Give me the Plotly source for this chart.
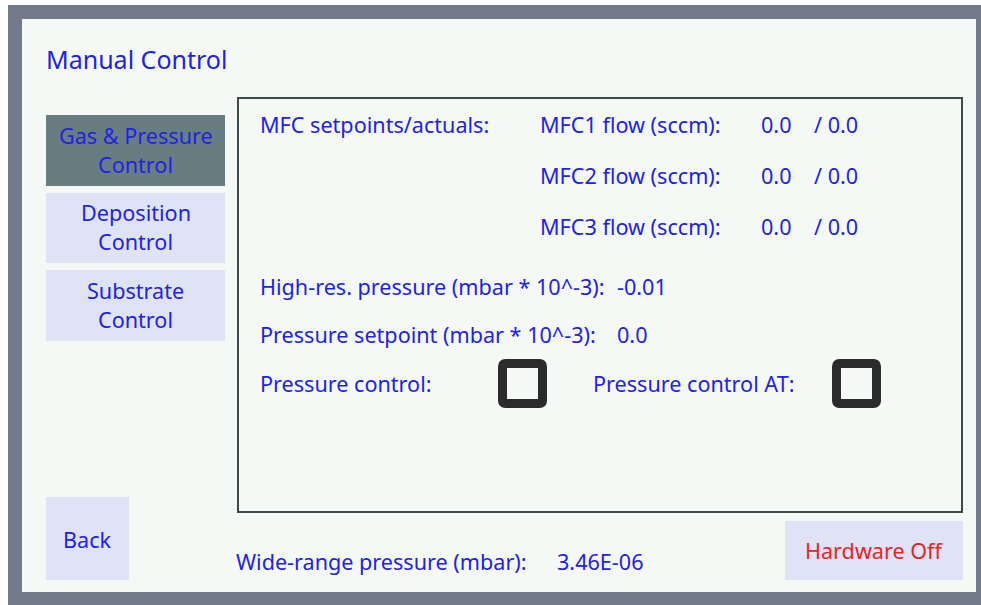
import plotly.graph_objects as go

# ---- data ----
title_text = "Manual Control"
nav_buttons = [["Gas & Pressure", "Control"], ["Deposition", "Control"], ["Substrate", "Control"]]
nav_active = [True, False, False]
mfc_header = "MFC setpoints/actuals:"
mfc_labels = ["MFC1 flow (sccm):", "MFC2 flow (sccm):", "MFC3 flow (sccm):"]
mfc_setpoints = [0.0, 0.0, 0.0]
mfc_actuals = [0.0, 0.0, 0.0]
hires_label = "High-res. pressure (mbar * 10^-3):"
hires_value = "-0.01"
setpoint_label = "Pressure setpoint (mbar * 10^-3):"
setpoint_value = 0.0
check_labels = ["Pressure control:", "Pressure control AT:"]
check_states = [False, False]
wide_label = "Wide-range pressure (mbar):"
wide_value = "3.46E-06"
back_text = "Back"
hw_text = "Hardware Off"

# ---- style ----
FONT = "Noto Sans"
BLUE = "#2222e6"
RED = "#ee2222"
PANEL = "#f5f9f6"
FRAME = "#737a89"
BTN = "#dfe3f6"
BTN_ACTIVE = "#687d81"
FS = 21.6

fig = go.Figure()
shapes = []
ann = []

def rect(x0, y0, x1, y1, fill, line=None, lw=0):
    shapes.append(dict(type="rect", x0=x0, y0=y0, x1=x1, y1=y1, fillcolor=fill,
                       line=dict(color=line or fill, width=lw), layer="below"))

def text(x, y, t, color=BLUE, size=FS, anchor="left"):
    ann.append(dict(x=x, y=y, text=t, showarrow=False, xanchor=anchor, yanchor="middle",
                    xshift=-3 if anchor == "left" else 0, yshift=1,
                    font=dict(family=FONT, size=size, color=color)))

# frame and panel
rect(8, 5, 981, 605, FRAME)
rect(22, 19, 976, 592, PANEL)

text(47, 60, title_text, size=25)

# nav buttons
btn_y = [(115, 186), (193, 263), (270, 341)]
for (lines, active, (y0, y1)) in zip(nav_buttons, nav_active, btn_y):
    rect(46, y0, 225, y1, BTN_ACTIVE if active else BTN)
    yc = (y0 + y1) / 2
    text(135.5, yc - 14.5, lines[0], anchor="center")
    text(135.5, yc + 14.5, lines[1], anchor="center")

# main box
shapes.append(dict(type="rect", x0=238, y0=98, x1=962, y1=512, fillcolor=PANEL,
                   line=dict(color="#3d4b4b", width=2), layer="below"))

text(261, 125, mfc_header)
mfc_y = [125, 176, 227]
for lab, sp, ac, y in zip(mfc_labels, mfc_setpoints, mfc_actuals, mfc_y):
    text(541, y, lab)
    text(762, y, f"{sp:.1f}")
    text(815, y, f"/ {ac:.1f}")

text(261, 287, hires_label)
text(618, 287, hires_value)
text(261, 335, setpoint_label)
text(618, 335, f"{setpoint_value:.1f}")

check_x = [(261, 498), (594, 832)]
for lab, st, (lx, bx) in zip(check_labels, check_states, check_x):
    text(lx, 384, lab)
    x0, y0, x1, y1 = bx + 4.5, 363.5, bx + 44.5, 403.5
    r = 3
    path = (f"M{x0+r},{y0} L{x1-r},{y0} Q{x1},{y0} {x1},{y0+r} L{x1},{y1-r} Q{x1},{y1} {x1-r},{y1} "
            f"L{x0+r},{y1} Q{x0},{y1} {x0},{y1-r} L{x0},{y0+r} Q{x0},{y0} {x0+r},{y0} Z")
    shapes.append(dict(type="path", path=path, fillcolor="#2b2b2b" if st else "rgba(0,0,0,0)",
                       line=dict(color="#2b2b2b", width=9)))

# bottom
rect(46, 497, 129, 580, BTN)
text(87.5, 540, back_text, anchor="center")
text(237, 562, wide_label)
text(558, 562, wide_value)
rect(785, 521, 963, 580, BTN)
text(874, 551, hw_text, color=RED, anchor="center")

fig.update_layout(
    width=981, height=605, margin=dict(l=0, r=0, t=0, b=0),
    paper_bgcolor="white", plot_bgcolor="white",
    xaxis=dict(range=[0, 981], visible=False, fixedrange=True),
    yaxis=dict(range=[605, 0], visible=False, fixedrange=True),
    shapes=shapes, annotations=ann, showlegend=False,
)
fig.write_html("out.html", config={"displayModeBar": False},
               post_script="document.body.style.margin='0';document.body.style.overflow='hidden';")
